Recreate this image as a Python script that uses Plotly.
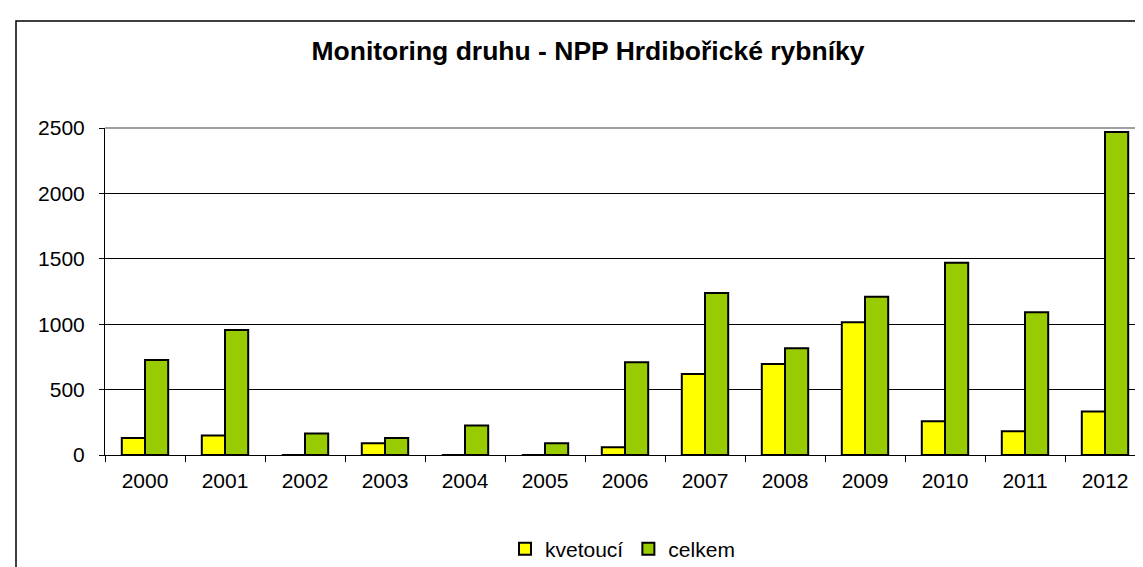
import plotly.graph_objects as go

years = ["2000", "2001", "2002", "2003", "2004", "2005", "2006",
         "2007", "2008", "2009", "2010", "2011", "2012"]
kvetouci = [130, 150, 0, 90, 0, 0, 60, 620, 695, 1015, 258, 182, 333]
celkem = [727, 955, 165, 130, 225, 90, 710, 1238, 817, 1210, 1470, 1091, 2470]
y_ticks = [0, 500, 1000, 1500, 2000, 2500]

FONT = "Liberation Sans, Arial, sans-serif"

fig = go.Figure()
fig.add_trace(go.Bar(name="kvetoucí", x=years, y=kvetouci,
                     marker=dict(color="#FFFF00", line=dict(color="#000000", width=2))))
fig.add_trace(go.Bar(name="celkem", x=years, y=celkem,
                     marker=dict(color="#99CC00", line=dict(color="#000000", width=2))))

L, R, T, B = 97, 1137, 120, 450
W, H = 1143, 567
pw, ph = R - L, B - T

fig.update_layout(
    width=W, height=H,
    margin=dict(l=L, r=W - R, t=T, b=H - B, pad=0),
    paper_bgcolor="white", plot_bgcolor="white",
    barmode="group", bargap=0.42, bargroupgap=0,
    font=dict(family=FONT, color="#000000", size=21),
    title=dict(text="<b>Monitoring druhu - NPP Hrdibořické rybníky</b>",
               font=dict(family=FONT, size=26.5, color="#000000"),
               x=(580 - L) / pw, xref="paper", xanchor="center",
               y=1 - 43 / H, yref="container", yanchor="middle"),
    showlegend=True,
    legend=dict(orientation="h", x=(497 - L) / pw, xanchor="left",
                y=(B - 545) / ph, yanchor="middle",
                font=dict(family=FONT, size=21, color="#000000"),
                bgcolor="rgba(0,0,0,0)"),
    xaxis=dict(type="category", showline=True, linecolor="#000000", linewidth=1,
               ticks="outside", tickson="boundaries", ticklen=6, tickcolor="#000000",
               tickfont=dict(family=FONT, size=21, color="#000000"),
               showgrid=False, ticklabelstandoff=7),
    yaxis=dict(range=[0, 2500], tickvals=y_ticks, showline=True, linecolor="#000000",
               linewidth=1, ticks="outside", ticklen=5, tickcolor="#000000",
               tickfont=dict(family=FONT, size=21, color="#000000"),
               showgrid=True, gridcolor="#000000", gridwidth=1, zeroline=False,
               ticklabelstandoff=10),
    shapes=[
        dict(type="line", xref="paper", yref="paper", x0=0, x1=1, y0=1, y1=1,
             line=dict(color="#808080", width=1.5), layer="above"),
        dict(type="line", xref="paper", yref="paper", x0=1, x1=1, y0=0, y1=1,
             line=dict(color="#808080", width=1.5), layer="above"),
        dict(type="rect", xref="paper", yref="paper",
             x0=(8 - L) / pw, x1=1.3, y0=-1.0, y1=1 + (T - 12) / ph,
             line=dict(color="#000000", width=1.5), fillcolor="rgba(0,0,0,0)", layer="below"),
    ],
)

fig.write_html("out.html")
